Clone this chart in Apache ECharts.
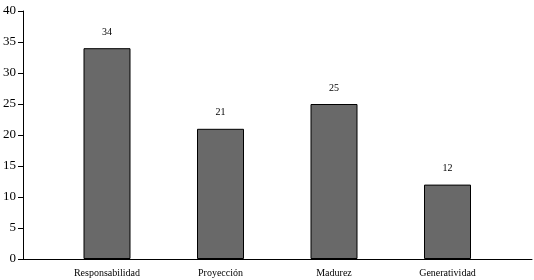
<!DOCTYPE html>
<html><head><meta charset="utf-8">
<script src="https://cdn.jsdelivr.net/npm/echarts@6/dist/echarts.min.js"></script>
<style>html,body{margin:0;padding:0;background:#fff}#c{width:534px;height:280px}</style>
</head><body><div id="c"></div>
<script>
const categories = ['Responsabilidad', 'Proyección', 'Madurez', 'Generatividad'];
const values = [34, 21, 25, 12];
const yTicks = [0, 5, 10, 15, 20, 25, 30, 35, 40];

const font = '"Liberation Serif", "Times New Roman", serif';
const chart = echarts.init(document.getElementById('c'));
chart.setOption({
  animation: false,
  grid: [
    {left: 50.25, right: 29.75, top: 11, bottom: 21},
    {left: 23, right: 2, top: 11, bottom: 21}
  ],
  xAxis: [
    {type: 'category', gridIndex: 0, data: categories,
     axisLine: {show: false}, axisTick: {show: false},
     axisLabel: {color: '#000', fontFamily: font, fontSize: 10, margin: 9, interval: 0}},
    {type: 'value', gridIndex: 1, min: 0, max: 1,
     axisLine: {show: true, onZero: false, lineStyle: {color: '#000', width: 1}},
     axisTick: {show: false}, axisLabel: {show: false}, splitLine: {show: false}}
  ],
  yAxis: [
    {type: 'value', gridIndex: 0, min: yTicks[0], max: yTicks[yTicks.length - 1], interval: 5, offset: 27.25,
     axisLine: {show: true, lineStyle: {color: '#000', width: 1}},
     axisTick: {show: true, length: 5, lineStyle: {color: '#000'}},
     axisLabel: {color: '#000', fontFamily: font, fontSize: 13, margin: 7},
     splitLine: {show: false}},
    {type: 'value', gridIndex: 1, min: 0, max: 40, show: false}
  ],
  series: [{
    type: 'bar', xAxisIndex: 0, yAxisIndex: 0, data: values, barWidth: 47,
    itemStyle: {color: '#696969', borderColor: '#000', borderWidth: 1},
    label: {show: true, position: 'top', distance: 11, color: '#000', fontFamily: font, fontSize: 10}
  }]
});
</script></body></html>
